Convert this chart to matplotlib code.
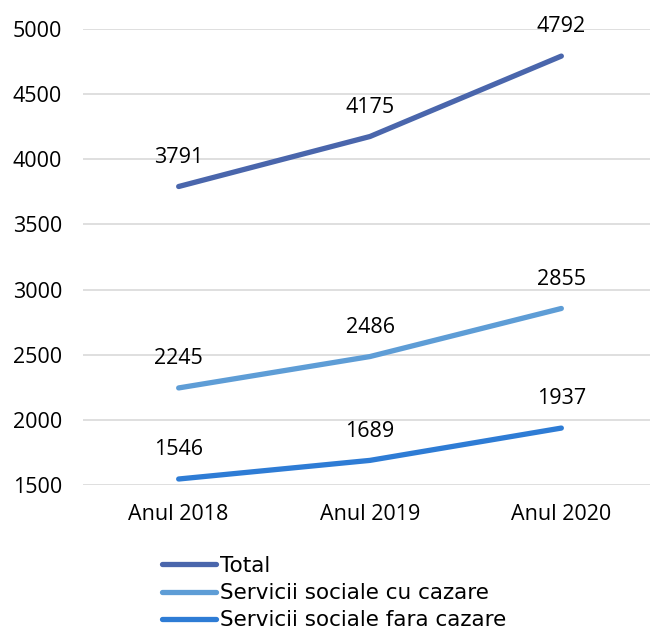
import matplotlib
matplotlib.use("Agg")
import matplotlib.pyplot as plt

categories = ["Anul 2018", "Anul 2019", "Anul 2020"]
total = [3791, 4175, 4792]
cu_cazare = [2245, 2486, 2855]
fara_cazare = [1546, 1689, 1937]
series_names = ["Total", "Servicii sociale cu cazare", "Servicii sociale fara cazare"]
colors = ["#4A66AC", "#5E9DD6", "#2E7CD5"]

FS = 15.5
plt.rcParams['font.family'] = ['Open Sans', 'DejaVu Sans']
fig = plt.figure(figsize=(6.5, 6.29), dpi=100)
ax = fig.add_axes([83/650, 144/629, 574/650, 456/629])

x = list(range(len(categories)))
for vals, name, c in zip([total, cu_cazare, fara_cazare], series_names, colors):
    ax.plot(x, vals, color=c, linewidth=3.8, solid_capstyle='round', label=name, zorder=3)
    for xi, v in zip(x, vals):
        ax.annotate(str(v), (xi, v), xytext=(0, 21), textcoords='offset points',
                    ha='center', va='center', fontsize=FS, color='black')

ax.set_xlim(-0.5, 2.5)
ax.set_ylim(1500, 5000)
ax.set_yticks(range(1500, 5001, 500))
ax.set_xticks(x)
ax.set_xticklabels(categories)
ax.grid(axis='y', color='#D9D9D9', linewidth=1.2)
ax.set_axisbelow(True)
for s in ax.spines.values():
    s.set_visible(False)
ax.tick_params(axis='both', length=0, labelsize=FS)
ax.tick_params(axis='y', pad=15)
ax.tick_params(axis='x', pad=14)

leg = fig.legend(loc='upper left', bbox_to_anchor=(162/650, 1 - 556/629), frameon=False,
                 prop={'family': 'DejaVu Sans', 'size': FS},
                 handlelength=2.5, handletextpad=0.2, labelspacing=0.33,
                 borderpad=0, borderaxespad=0)

fig.savefig("out.png", dpi=100)
